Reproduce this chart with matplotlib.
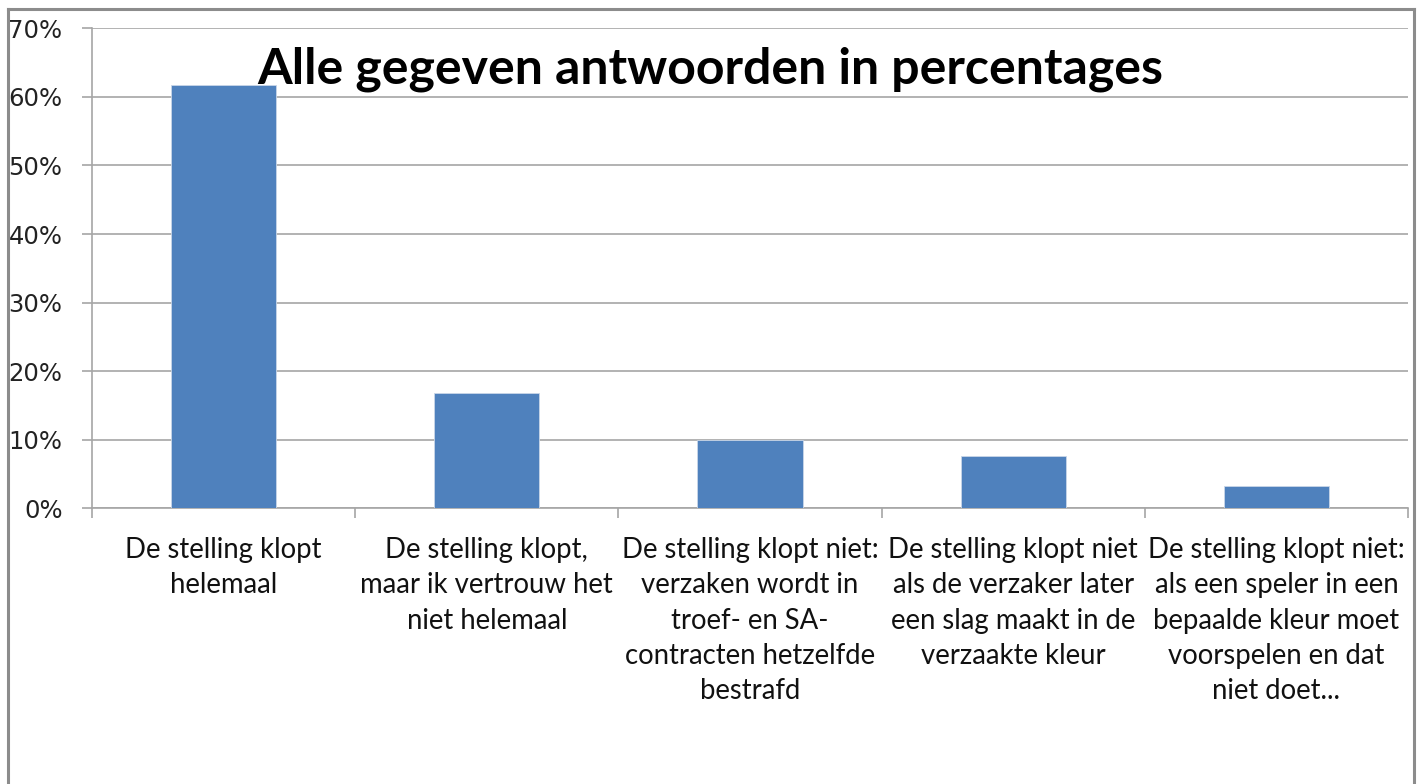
import matplotlib
matplotlib.use("Agg")
import matplotlib.pyplot as plt
from matplotlib.lines import Line2D
import numpy as np

categories = [
    "De stelling klopt\nhelemaal",
    "De stelling klopt,\nmaar ik vertrouw het\nniet helemaal",
    "De stelling klopt niet:\nverzaken wordt in\ntroef- en SA-\ncontracten hetzelfde\nbestrafd",
    "De stelling klopt niet\nals de verzaker later\neen slag maakt in de\nverzaakte kleur",
    "De stelling klopt niet:\nals een speler in een\nbepaalde kleur moet\nvoorspelen en dat\nniet doet...",
]
values = [61.7, 16.8, 10.0, 7.6, 3.2]
yticks = [0, 10, 20, 30, 40, 50, 60, 70]
title = "Alle gegeven antwoorden in percentages"

W, H = 1421, 784
fig = plt.figure(figsize=(W / 100, H / 100), dpi=100)
fig.patch.set_facecolor("white")

x0, x1 = 92, 1408
y_top, y_bot = 28.3, 508.3
ax = fig.add_axes([x0 / W, 1 - y_bot / H, (x1 - x0) / W, (y_bot - y_top) / H])

grid_c = "#A6A6A6"
bar_c = "#4F81BD"
x = np.arange(len(categories))
ax.bar(x, values, width=0.4, color=bar_c, edgecolor="#C9D6E8", linewidth=0.6, zorder=3)

ax.set_xlim(-0.5, len(categories) - 0.5)
ax.set_ylim(0, 70)
ax.set_yticks(yticks)
ax.set_yticklabels([f"{v}%" for v in yticks], fontsize=17.5, family="DejaVu Sans", color="#222222")
ax.yaxis.grid(True, color=grid_c, linewidth=1.2, zorder=0)
ax.set_axisbelow(True)

ax.set_xticks(np.arange(len(categories) + 1) - 0.5)
ax.set_xticklabels([])
ax.set_xticks(x, minor=True)
ax.set_xticklabels(categories, minor=True, fontsize=19.8, family="Lato", linespacing=1.43, color="#111111")
ax.tick_params(axis="x", which="minor", length=0, pad=21)
ax.tick_params(axis="x", which="major", length=7.2, width=1.2, color=grid_c, direction="out")
ax.tick_params(axis="y", length=7.2, width=1.2, color=grid_c, direction="out", pad=14)

for s in ["top", "right"]:
    ax.spines[s].set_visible(False)
for s in ["left", "bottom"]:
    ax.spines[s].set_color(grid_c)
    ax.spines[s].set_linewidth(1.2)

fig.text(710 / W, 1 - 69 / H, title, ha="center", va="center", fontsize=36,
         fontweight="bold", family="Lato", color="black")

frame_c = "#8C8C8C"
lw = 2.2
fig.add_artist(Line2D([8 / W, 8 / W], [0, 1 - 9 / H], color=frame_c, linewidth=lw, transform=fig.transFigure))
fig.add_artist(Line2D([8 / W, 1414 / W], [1 - 9 / H, 1 - 9 / H], color=frame_c, linewidth=lw, transform=fig.transFigure))
fig.add_artist(Line2D([1414 / W, 1414 / W], [0, 1 - 9 / H], color=frame_c, linewidth=lw, transform=fig.transFigure))

fig.savefig("out.png", dpi=100)
